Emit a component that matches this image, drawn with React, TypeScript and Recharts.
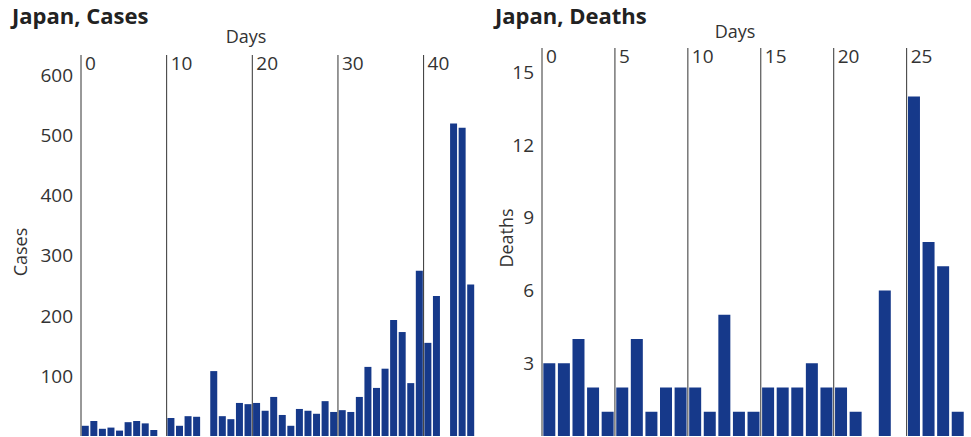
import React from 'react';
import { BarChart, Bar, XAxis, YAxis, ReferenceLine } from 'recharts';

// daily new cases, day 0..45 (null = no bar)
const caseValues = [
  17, 25, 12, 14, 9, 23, 25, 21, 10, null,
  30, 17, 33, 32, null, 108, 33, 28, 55, 53,
  55, 42, 65, 35, 17, 45, 42, 37, 58, 40,
  43, 40, 65, 115, 80, 112, 193, 173, 88, 275,
  155, 233, null, 520, 513, 252,
];
const caseTicks = [100, 200, 300, 400, 500, 600];
const caseDayTicks = [0, 10, 20, 30, 40];

// daily deaths, day 0..28
const deathValues = [
  3, 3, 4, 2, 1, 2, 4, 1, 2, 2,
  2, 1, 5, 1, 1, 2, 2, 2, 3, 2,
  2, 1, null, 6, null, 14, 8, 7, 1,
];
const deathTicks = [3, 6, 9, 12, 15];
const deathDayTicks = [0, 5, 10, 15, 20, 25];

const BAR_COLOR = '#16398a';
const LINE_COLOR = '#333';
const TEXT = '#333';
const FONT = '"Open Sans", Roboto, sans-serif';

function DayTick(props: any) {
  const { x, y, payload } = props;
  return (
    <text x={x + 4} y={y + 23} fill={TEXT} fontSize={19} fontFamily={FONT}>
      {payload.value}
    </text>
  );
}

interface PanelProps {
  left: number;
  width: number;
  values: (number | null)[];
  yTicks: number[];
  yMax: number;
  dayTicks: number[];
  yAxisWidth: number;
  margin: { top: number; right: number; bottom: number; left: number };
  title: string;
  yLabel: string;
  titleX: number;
  daysX: number;
  daysY: number;
  yLabelX: number;
  yLabelY: number;
}

function Panel(p: PanelProps) {
  const data = p.values.map((v, i) => ({ day: i, value: v }));
  const n = p.values.length;
  return (
    <div style={{ position: 'absolute', left: p.left, top: 0, width: p.width, height: 437 }}>
      <div
        style={{
          position: 'absolute', left: p.titleX, top: 1, fontFamily: FONT, fontWeight: 700,
          fontSize: 22, color: '#222', lineHeight: '28px', whiteSpace: 'nowrap',
        }}
      >
        {p.title}
      </div>
      <div
        style={{
          position: 'absolute', left: p.daysX, top: p.daysY, transform: 'translateX(-50%)',
          fontFamily: FONT, fontSize: 18, color: TEXT, lineHeight: '22px',
        }}
      >
        Days
      </div>
      <div
        style={{
          position: 'absolute', left: p.yLabelX, top: p.yLabelY,
          transform: 'translate(-50%, -50%) rotate(-90deg)',
          fontFamily: FONT, fontSize: 18, color: TEXT, lineHeight: '22px', whiteSpace: 'nowrap',
        }}
      >
        {p.yLabel}
      </div>
      <BarChart width={p.width} height={437} data={data} margin={p.margin} barCategoryGap="9%">
        <XAxis xAxisId="cat" dataKey="day" type="category" hide />
        <XAxis
          xAxisId="days"
          dataKey="day"
          type="number"
          domain={[0, n]}
          ticks={p.dayTicks}
          interval={0}
          orientation="top"
          height={30}
          axisLine={false}
          tickLine={false}
          allowDataOverflow
          tick={<DayTick />}
        />
        <YAxis
          type="number"
          domain={[0, p.yMax]}
          ticks={p.yTicks}
          interval={0}
          width={p.yAxisWidth}
          axisLine={false}
          tickLine={false}
          allowDataOverflow
          tick={{ fontSize: 19, fill: TEXT, fontFamily: FONT }}
        />
        <Bar dataKey="value" xAxisId="cat" fill={BAR_COLOR} isAnimationActive={false} />
        {p.dayTicks.map((d) => (
          <ReferenceLine key={d} xAxisId="days" x={d} stroke={LINE_COLOR} strokeWidth={1} />
        ))}
      </BarChart>
    </div>
  );
}

export default function App() {
  return (
    <div style={{ position: 'relative', width: 971, height: 437, background: '#fff' }}>
      <style>{'body{margin:0}'}</style>
      <Panel
        left={0}
        width={485}
        values={caseValues}
        yTicks={caseTicks}
        yMax={634}
        dayTicks={caseDayTicks}
        yAxisWidth={81}
        margin={{ top: 25, right: 10, bottom: 1, left: 0 }}
        title="Japan, Cases"
        yLabel="Cases"
        titleX={12}
        daysX={246}
        daysY={25}
        yLabelX={20}
        yLabelY={252}
      />
      <Panel
        left={485}
        width={486}
        values={deathValues}
        yTicks={deathTicks}
        yMax={16}
        dayTicks={deathDayTicks}
        yAxisWidth={57}
        margin={{ top: 18, right: 6, bottom: 1, left: 0 }}
        title="Japan, Deaths"
        yLabel="Deaths"
        titleX={10}
        daysX={250}
        daysY={20}
        yLabelX={21}
        yLabelY={238}
      />
    </div>
  );
}
